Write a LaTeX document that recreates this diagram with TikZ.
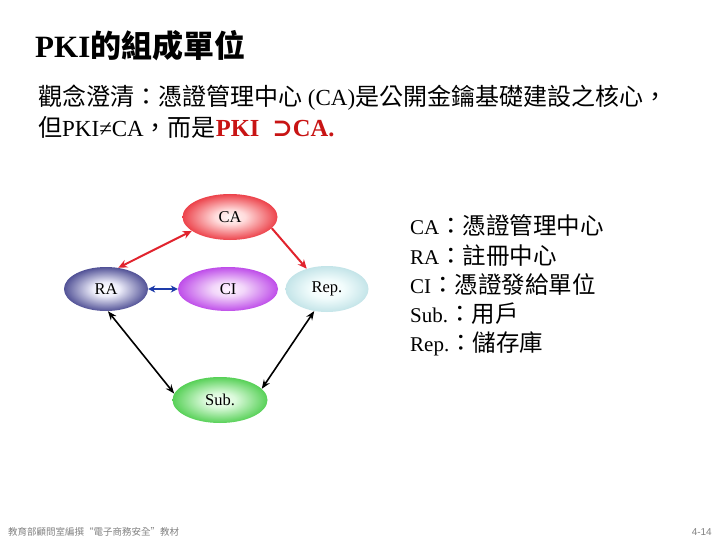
\documentclass[tikz,border=0pt]{standalone}
\usepackage{fontspec}
\setmainfont{Liberation Serif}
\setsansfont{Liberation Sans}
\newfontfamily\cjk{Noto Sans CJK TC}
\newfontfamily\symf{DejaVu Serif}
\usetikzlibrary{shapes.geometric,arrows.meta}
\definecolor{redline}{RGB}{225,35,45}
\definecolor{blueline}{RGB}{30,60,170}
\definecolor{darkred}{RGB}{200,20,20}
\definecolor{footgray}{RGB}{130,130,130}
\pgfdeclareradialshading{cashade}{\pgfpoint{0bp}{0bp}}{rgb(0bp)=(1,0.97,0.97);rgb(8bp)=(1,0.86,0.86);rgb(29bp)=(0.91,0.12,0.16);rgb(50bp)=(0.91,0.12,0.16)}
\pgfdeclareradialshading{rashade}{\pgfpoint{0bp}{0bp}}{rgb(0bp)=(1,1,1);rgb(8bp)=(0.93,0.93,0.98);rgb(29bp)=(0.18,0.18,0.5);rgb(50bp)=(0.18,0.18,0.5)}
\pgfdeclareradialshading{cishade}{\pgfpoint{0bp}{0bp}}{rgb(0bp)=(1,0.96,1);rgb(8bp)=(0.95,0.84,0.98);rgb(29bp)=(0.7,0.18,0.9);rgb(50bp)=(0.7,0.18,0.9)}
\pgfdeclareradialshading{repshade}{\pgfpoint{0bp}{0bp}}{rgb(0bp)=(1,1,1);rgb(10bp)=(0.95,0.99,0.99);rgb(29bp)=(0.72,0.87,0.89);rgb(50bp)=(0.72,0.87,0.89)}
\pgfdeclareradialshading{subshade}{\pgfpoint{0bp}{0bp}}{rgb(0bp)=(0.97,1,0.97);rgb(8bp)=(0.86,0.98,0.86);rgb(29bp)=(0.22,0.78,0.22);rgb(50bp)=(0.22,0.78,0.22)}
\tikzset{
  ell/.style={ellipse, draw=none, inner sep=0pt, font=\fontsize{16.5}{18}\selectfont},
  redarrow/.style={draw=redline, line width=2pt},
  bluearrow/.style={draw=blueline, line width=2pt, arrows={Stealth[length=7pt,width=7pt]-Stealth[length=7pt,width=7pt]}},
  blackarrow/.style={draw=black, line width=1.6pt, arrows={Stealth[length=9pt,width=7pt]-Stealth[length=9pt,width=7pt]}},
  legend/.style={anchor=base west, inner sep=0pt, font=\fontsize{21}{24}\selectfont},
  textline/.style={anchor=base west, inner sep=0pt, font=\fontsize{23}{26}\selectfont},
}
\begin{document}
\begin{tikzpicture}[x=1pt,y=-1pt]
\useasboundingbox (0,0) rectangle (720,540);
\fill[white] (0,0) rectangle (720,540);
% title
\node[anchor=base west, inner sep=0pt, font=\fontsize{31}{34}\bfseries] (title) at (35,58) {PKI{\cjk 的組成單位}};
% text lines
\node[textline] (line1) at (38,106) {{\cjk\fontsize{24}{26}\selectfont 觀念澄清：憑證管理中心} (CA){\cjk\fontsize{24}{26}\selectfont 是公開金鑰基礎建設之核心，}};
\node[textline] (line2) at (38,137) {{\cjk\fontsize{24}{26}\selectfont 但}PKI≠CA{\cjk\fontsize{24}{26}\selectfont ，而是}\textcolor{darkred}{\bfseries\fontsize{24.5}{26}\selectfont PKI\hspace{13pt}{\symf ⊃}CA.}};
% ellipses
\node[ell, minimum width=95pt, minimum height=46pt, shading=cashade] (CA) at (230,217) {CA};
\node[ell, minimum width=84pt, minimum height=44pt, shading=rashade] (RA) at (106,289) {RA};
\node[ell, minimum width=100pt, minimum height=44pt, shading=cishade] (CI) at (228,289) {CI};
\node[ell, minimum width=83pt, minimum height=46pt, shading=repshade] (Rep) at (327,289) {Rep.};
\node[ell, minimum width=95pt, minimum height=46pt, shading=subshade] (Sub) at (220,400) {Sub.};
% connectors
\draw[redarrow, arrows={Stealth[length=9pt,width=8pt]-Stealth[length=9pt,width=8pt]}] (CA.200) -- (RA.60);
\draw[redarrow, arrows={-Stealth[length=9pt,width=8pt]}] (CA.-15) -- (Rep.135);
\draw[bluearrow] (RA) -- (CI);
\draw[blackarrow] (RA.-85) -- (Sub.172);
\draw[blackarrow] (Rep.-120) -- (Sub.15);
% legend
\node[legend] (l1) at (410,235) {CA{\cjk\fontsize{23.5}{24}\selectfont ：憑證管理中心}};
\node[legend] (l2) at (410,264) {RA{\cjk\fontsize{23.5}{24}\selectfont ：註冊中心}};
\node[legend] (l3) at (410,293) {CI{\cjk\fontsize{23.5}{24}\selectfont ：憑證發給單位}};
\node[legend] (l4) at (410,322) {Sub.{\cjk\fontsize{23.5}{24}\selectfont ：用戶}};
\node[legend] (l5) at (410,351) {Rep.{\cjk\fontsize{23.5}{24}\selectfont ：儲存庫}};
% footer
\node[anchor=base west, inner sep=0pt, text=footgray, font=\cjk\fontsize{9.5}{10}\selectfont] (foot) at (8,535) {教育部顧問室編撰“電子商務安全”教材};
\node[anchor=base east, inner sep=0pt, text=footgray, font=\sffamily\fontsize{10}{11}\selectfont] (page) at (712,535) {4-14};
\end{tikzpicture}
\end{document}
